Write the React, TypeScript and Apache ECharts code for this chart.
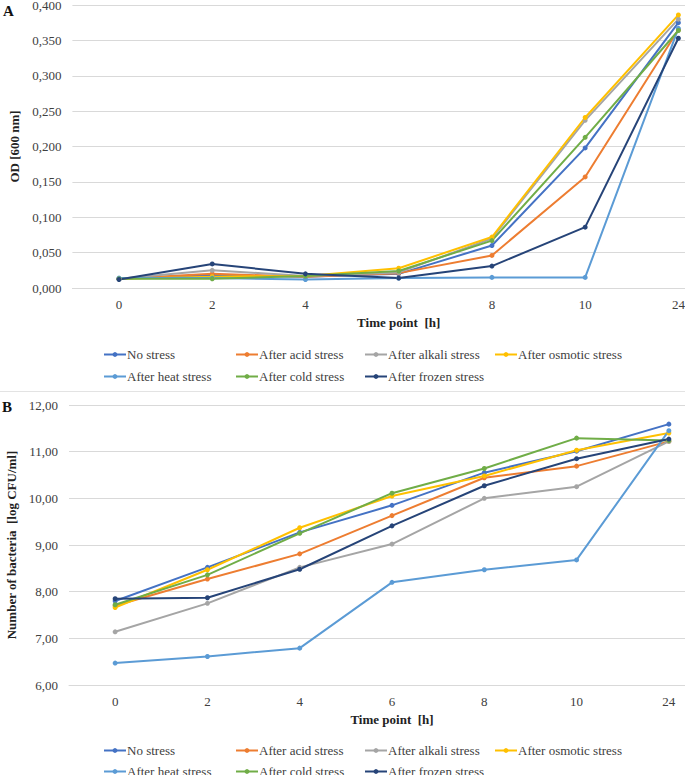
import React, { useEffect, useRef } from "react";
import * as echarts from "echarts";

const timePoints = ["0", "2", "4", "6", "8", "10", "24"];
const seriesNames = [
  "No stress",
  "After acid stress",
  "After alkali stress",
  "After osmotic stress",
  "After heat stress",
  "After cold stress",
  "After frozen stress",
];
const seriesColors = ["#4472C4", "#ED7D31", "#A5A5A5", "#FFC000", "#5B9BD5", "#70AD47", "#264478"];

// Panel A: OD 600 nm
const odNoStress = [0.013, 0.018, 0.016, 0.020, 0.060, 0.198, 0.375];
const odAcid = [0.013, 0.020, 0.016, 0.021, 0.046, 0.157, 0.365];
const odAlkali = [0.013, 0.025, 0.017, 0.022, 0.070, 0.237, 0.380];
const odOsmotic = [0.013, 0.016, 0.017, 0.028, 0.072, 0.241, 0.386];
const odHeat = [0.014, 0.014, 0.012, 0.014, 0.015, 0.015, 0.367];
const odCold = [0.013, 0.013, 0.017, 0.024, 0.067, 0.213, 0.364];
const odFrozen = [0.012, 0.034, 0.020, 0.014, 0.031, 0.086, 0.353];

// Panel B: log CFU/ml
const cfuNoStress = [7.80, 8.52, 9.27, 9.85, 10.55, 11.01, 11.59];
const cfuAcid = [7.70, 8.27, 8.81, 9.63, 10.44, 10.69, 11.22];
const cfuAlkali = [7.14, 7.75, 8.52, 9.02, 10.00, 10.25, 11.22];
const cfuOsmotic = [7.66, 8.47, 9.37, 10.05, 10.48, 11.03, 11.40];
const cfuHeat = [6.47, 6.61, 6.79, 8.20, 8.47, 8.68, 11.45];
const cfuCold = [7.72, 8.36, 9.25, 10.11, 10.64, 11.29, 11.24];
const cfuFrozen = [7.85, 7.87, 8.48, 9.41, 10.27, 10.85, 11.27];

const odData = [odNoStress, odAcid, odAlkali, odOsmotic, odHeat, odCold, odFrozen];
const cfuData = [cfuNoStress, cfuAcid, cfuAlkali, cfuOsmotic, cfuHeat, cfuCold, cfuFrozen];

const FONT = "serif";
const TEXT = "#404040";
const GRIDC = "#d9d9d9";

export default function App() {
  const ref = useRef<HTMLDivElement>(null);
  useEffect(() => {
    document.body.style.margin = "0";
    if (!ref.current) return;
    const chart = echarts.init(ref.current, null, { renderer: "svg" });

    const makeX = (gridIndex: number) => ({
      type: "category" as const,
      gridIndex,
      data: timePoints,
      boundaryGap: true,
      axisTick: { show: false },
      axisLine: { lineStyle: { color: GRIDC, width: 1 } },
      axisLabel: { color: TEXT, fontFamily: FONT, fontSize: 13, margin: 10 },
      name: "Time point  [h]",
      nameLocation: "middle" as const,
      nameGap: 28,
      nameTextStyle: { color: "#222", fontFamily: FONT, fontSize: 13, fontWeight: "bold" as const },
    });

    // legend item positions: [name, left, row]
    const legendPos: [string, number, number][] = [
      ["No stress", 103, 0],
      ["After acid stress", 235, 0],
      ["After alkali stress", 364, 0],
      ["After osmotic stress", 494, 0],
      ["After heat stress", 103, 1],
      ["After cold stress", 235, 1],
      ["After frozen stress", 364, 1],
    ];
    const legends: any[] = [];
    [[354, 376], [750, 771]].forEach((rows) => {
      legendPos.forEach(([name, left, row]) => {
        legends.push({
          orient: "horizontal",
          left,
          top: rows[row] - 6,
          itemWidth: 22,
          itemHeight: 6,
          padding: 0,
          selectedMode: false,
          data: [name],
          textStyle: { color: TEXT, fontFamily: FONT, fontSize: 13, padding: [0, 0, 0, -4] },
        });
      });
    });

    const series: any[] = [];
    const addSeries = (data: number[][], axisIndex: number) => {
      seriesNames.forEach((name, i) => {
        series.push({
          name,
          type: "line",
          xAxisIndex: axisIndex,
          yAxisIndex: axisIndex,
          data: data[i],
          symbol: "circle",
          symbolSize: 5,
          color: seriesColors[i],
          lineStyle: { width: 2, color: seriesColors[i] },
          itemStyle: { color: seriesColors[i] },
        });
      });
    };
    addSeries(odData, 0);
    addSeries(cfuData, 1);

    chart.setOption({
      animation: false,
      backgroundColor: "#ffffff",
      textStyle: { fontFamily: FONT },
      grid: [
        { left: 72.4, width: 652.6, top: 5, height: 283, outerBoundsMode: "none", containLabel: false },
        { left: 69, width: 646, top: 405, height: 280, outerBoundsMode: "none", containLabel: false },
      ],
      xAxis: [makeX(0), makeX(1)],
      yAxis: [
        {
          type: "value",
          gridIndex: 0,
          min: 0,
          max: 0.4,
          interval: 0.05,
          axisLine: { show: false },
          axisTick: { show: false },
          splitLine: { lineStyle: { color: GRIDC, width: 1 } },
          axisLabel: {
            color: TEXT,
            fontFamily: FONT,
            fontSize: 13,
            margin: 11,
            formatter: (v: number) => v.toFixed(3).replace(".", ","),
          },
          name: "OD [600 nm]",
          nameLocation: "middle",
          nameRotate: 90,
          nameGap: 51,
          nameTextStyle: { color: "#222", fontFamily: FONT, fontSize: 13, fontWeight: "bold" },
        },
        {
          type: "value",
          gridIndex: 1,
          min: 6,
          max: 12,
          interval: 1,
          axisLine: { show: false },
          axisTick: { show: false },
          splitLine: { lineStyle: { color: GRIDC, width: 1 } },
          axisLabel: {
            color: TEXT,
            fontFamily: FONT,
            fontSize: 13,
            margin: 11,
            formatter: (v: number) => v.toFixed(2).replace(".", ","),
          },
          name: "Number of bacteria  [log CFU/ml]",
          nameLocation: "middle",
          nameRotate: 90,
          nameGap: 43,
          nameTextStyle: { color: "#222", fontFamily: FONT, fontSize: 13, fontWeight: "bold" },
        },
      ],
      legend: legends,
      graphic: [
        {
          type: "text",
          left: 3,
          top: 3,
          style: { text: "A", font: `bold 15px ${FONT}`, fill: "#111" },
        },
        {
          type: "text",
          left: 2,
          top: 399,
          style: { text: "B", font: `bold 15px ${FONT}`, fill: "#111" },
        },
        {
          type: "line",
          shape: { x1: 0, y1: 391.5, x2: 685, y2: 391.5 },
          style: { stroke: "#e3e3e3", lineWidth: 1 },
        },
      ],
      series,
    });

    return () => chart.dispose();
  }, []);
  return <div ref={ref} style={{ width: 685, height: 775 }} />;
}
